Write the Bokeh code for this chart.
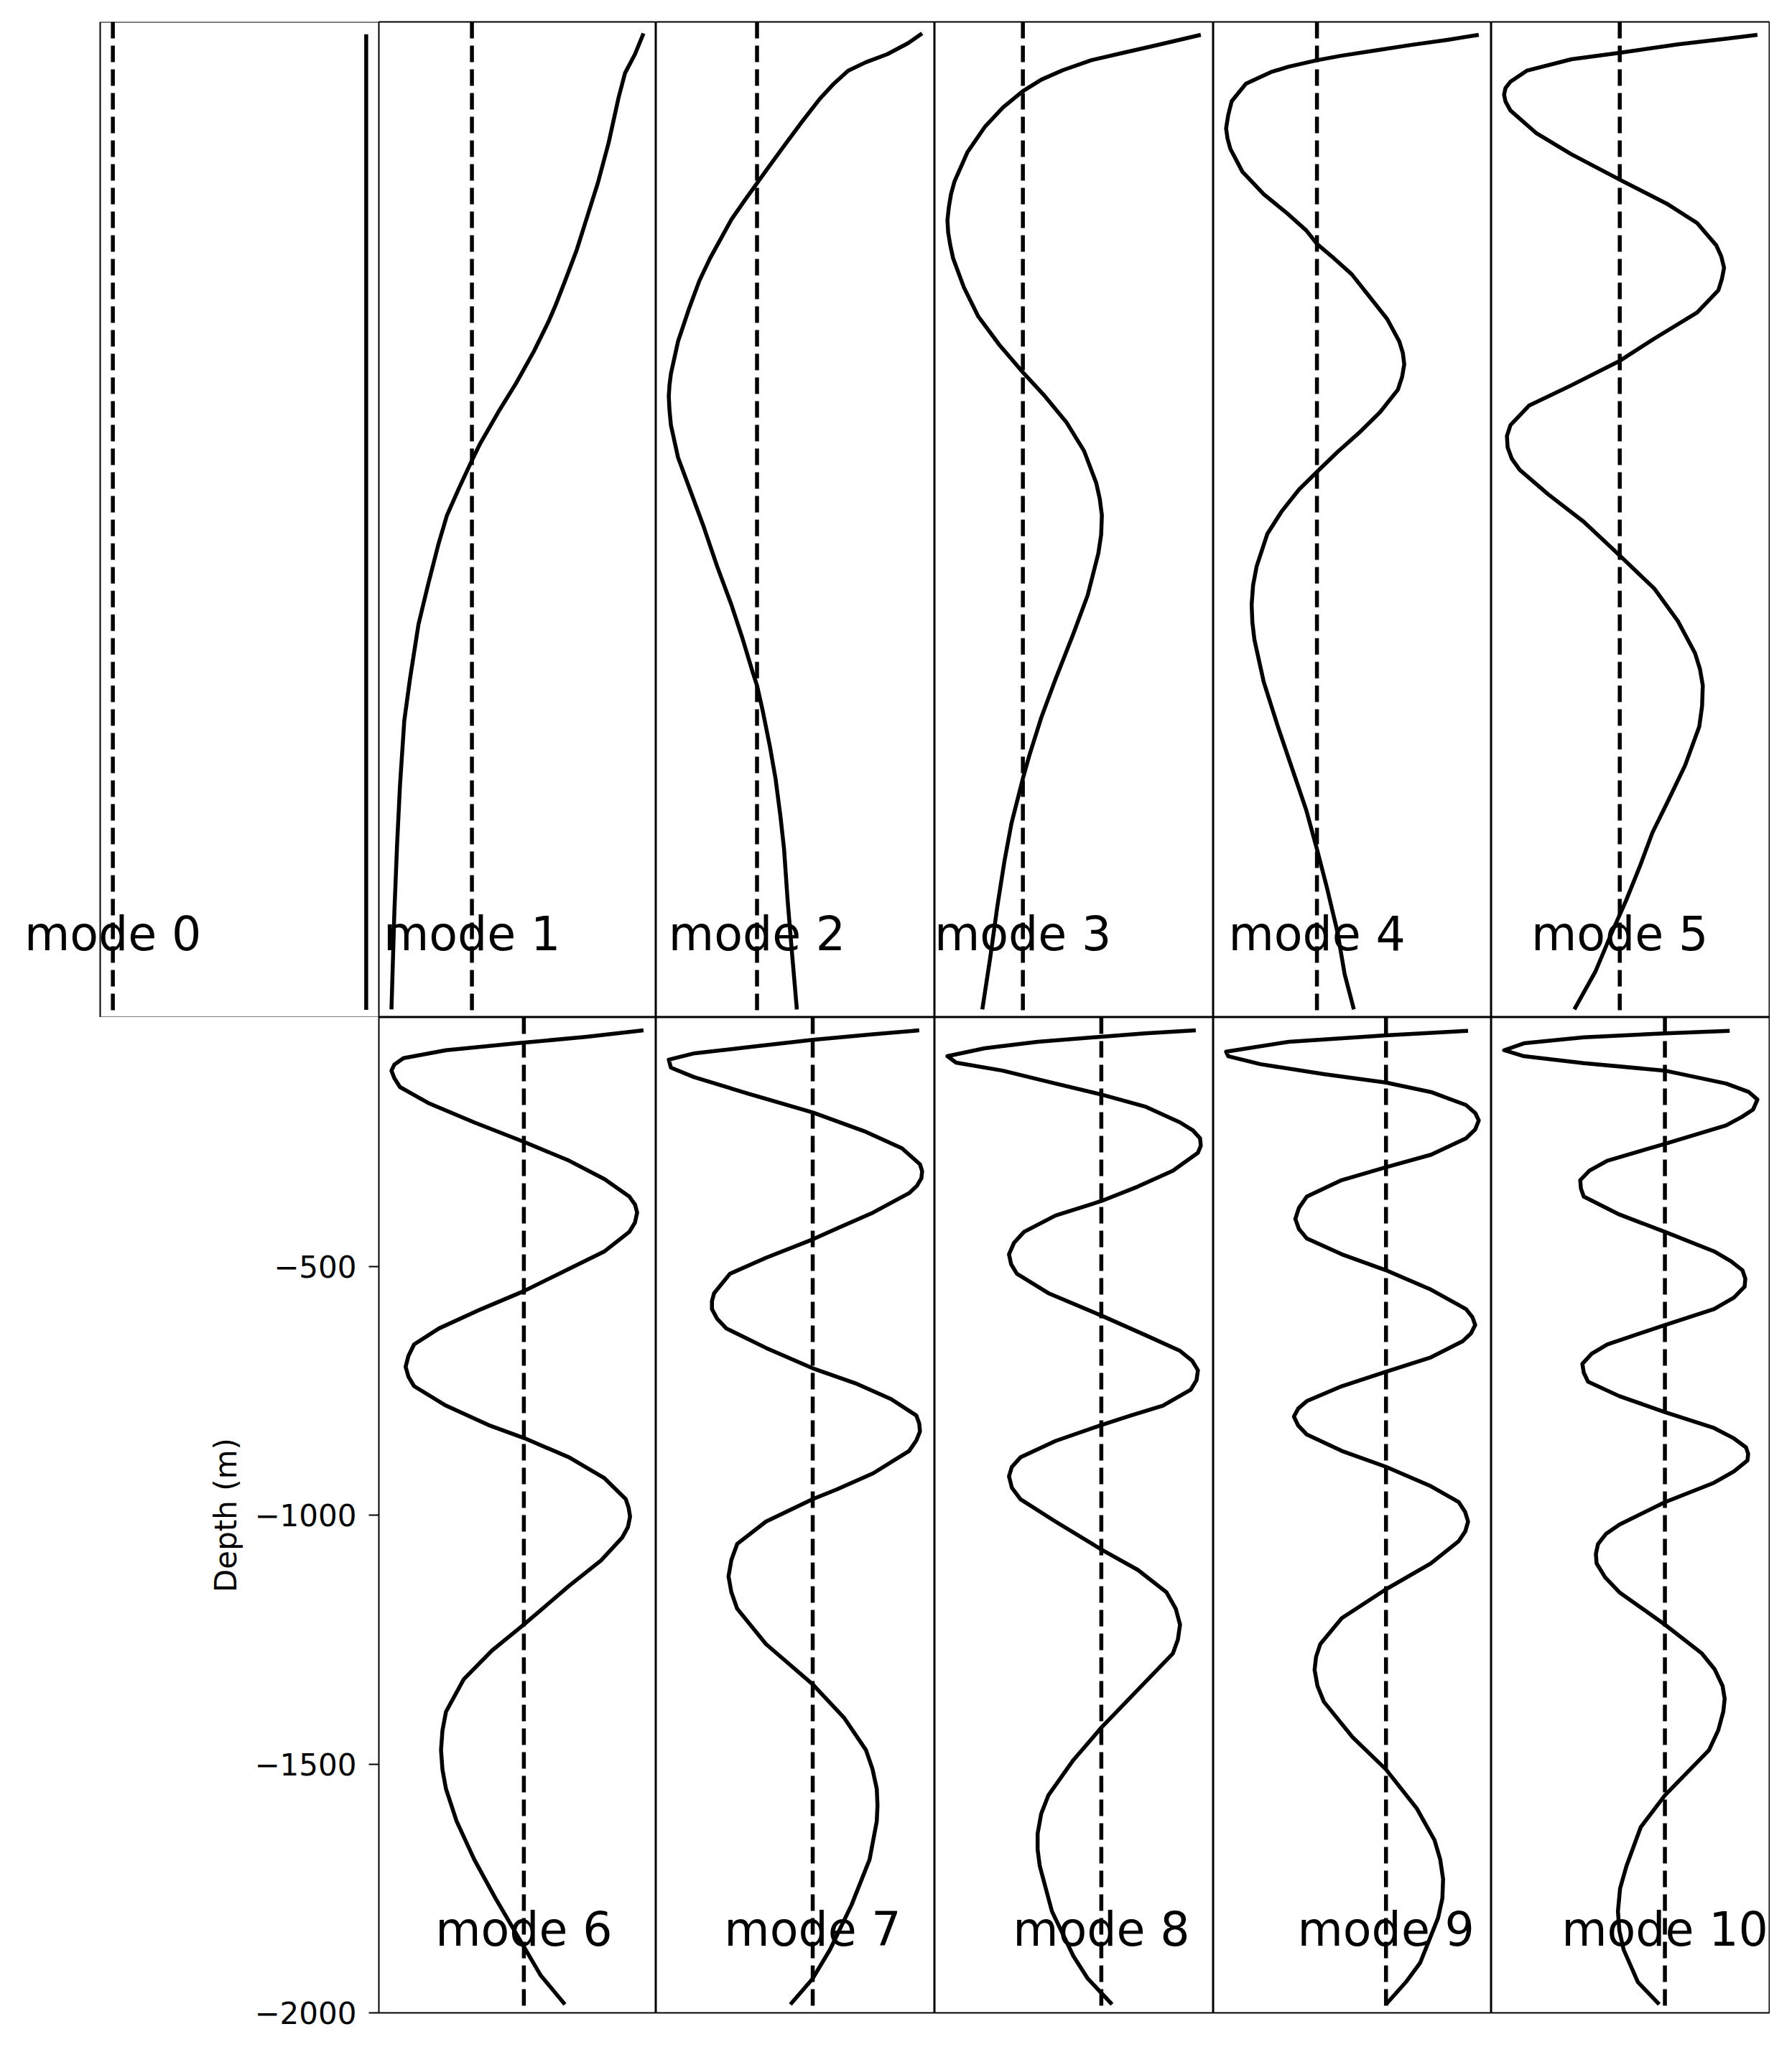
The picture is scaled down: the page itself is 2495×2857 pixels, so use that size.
from bokeh.plotting import figure
from bokeh.layouts import row, column
from bokeh.models import Range1d, Span, Label, FixedTicker, BoxAnnotation
from bokeh.embed import file_html
from bokeh.resources import INLINE

# ---------------- data (depth in m, modal amplitude in arbitrary units) -------------
DEPTH_0 = [-25, -1985]
AMP_0 = [1.0, 1.0]

DEPTH_1 = [-23, -65, -103, -152, -243, -323, -391, -459, -516, -571, -604, -662, -726, -784,
           -846, -881, -933, -991, -1049, -1133, -1210, -1320, -1404, -1533, -1649, -1791, -1984]
AMP_1 = [2.41, 2.29, 2.15, 2.06, 1.92, 1.77, 1.62, 1.47, 1.32, 1.17, 1.07, 0.87, 0.62, 0.37,
         0.12, 0.0, -0.17, -0.35, -0.47, -0.62, -0.75, -0.87, -0.95, -1.01, -1.05, -1.09, -1.13]

DEPTH_2 = [-23, -43, -65, -81, -98, -124, -155, -201, -249, -298, -324, -356, -397, -436, -475,
           -520, -578, -642, -707, -730, -752, -780, -810, -875, -933, -1010, -1094, -1171,
           -1236, -1307, -1333, -1384, -1455, -1520, -1597, -1662, -1765, -1868, -1984]
AMP_2 = [2.32, 2.12, 1.83, 1.53, 1.28, 1.08, 0.88, 0.63, 0.38, 0.13, 0.0, -0.16, -0.36, -0.51,
         -0.66, -0.81, -0.96, -1.11, -1.21, -1.23, -1.24, -1.23, -1.21, -1.11, -0.96, -0.76,
         -0.56, -0.36, -0.21, -0.06, 0.0, 0.08, 0.18, 0.26, 0.33, 0.38, 0.43, 0.49, 0.56]

DEPTH_3 = [-26, -36, -49, -62, -77, -97, -116, -139, -172, -210, -262, -320, -346, -372, -398,
           -423, -449, -475, -533, -591, -649, -704, -752, -804, -862, -926, -958, -991, -1030,
           -1068, -1152, -1229, -1320, -1397, -1474, -1520, -1610, -1687, -1778, -1881, -1984]
AMP_3 = [2.50, 2.20, 1.81, 1.41, 0.96, 0.56, 0.26, 0.0, -0.28, -0.53, -0.78, -0.96, -1.01,
         -1.04, -1.06, -1.05, -1.02, -0.98, -0.83, -0.63, -0.33, 0.0, 0.31, 0.61, 0.86, 1.03,
         1.08, 1.11, 1.10, 1.06, 0.91, 0.71, 0.46, 0.26, 0.09, 0.0, -0.16, -0.26, -0.36,
         -0.46, -0.57]

DEPTH_4 = [-26, -36, -46, -57, -68, -77, -90, -101, -124, -159, -187, -214, -234, -255, -301,
           -346, -387, -419, -446, -475, -507, -552, -597, -642, -665, -688, -713, -739, -784,
           -826, -864, -904, -939, -984, -1029, -1094, -1132, -1171, -1206, -1242, -1326,
           -1416, -1500, -1584, -1662, -1739, -1829, -1913, -1984]
AMP_4 = [2.28, 1.84, 1.34, 0.84, 0.34, 0.0, -0.40, -0.65, -1.00, -1.20, -1.25, -1.28, -1.26,
         -1.22, -1.05, -0.75, -0.40, -0.15, 0.0, 0.24, 0.49, 0.74, 0.99, 1.16, 1.21, 1.23,
         1.20, 1.14, 0.89, 0.59, 0.29, 0.0, -0.25, -0.50, -0.70, -0.85, -0.90, -0.92, -0.91,
         -0.88, -0.75, -0.55, -0.35, -0.15, 0.0, 0.14, 0.29, 0.39, 0.52]

DEPTH_5 = [-26, -34, -45, -62, -75, -98, -120, -133, -146, -160, -178, -223, -266, -317, -365,
           -404, -449, -471, -494, -516, -539, -584, -636, -681, -730, -771, -810, -832, -855,
           -878, -900, -949, -1004, -1072, -1139, -1204, -1268, -1300, -1333, -1375, -1416,
           -1494, -1571, -1629, -1694, -1765, -1829, -1907, -1984]
AMP_5 = [1.94, 1.49, 0.82, 0.0, -0.68, -1.31, -1.54, -1.61, -1.63, -1.61, -1.54, -1.18, -0.68,
         0.0, 0.66, 1.09, 1.36, 1.43, 1.47, 1.44, 1.39, 1.09, 0.49, 0.0, -0.68, -1.28, -1.54,
         -1.59, -1.58, -1.52, -1.41, -1.01, -0.51, 0.0, 0.49, 0.82, 1.06, 1.13, 1.17, 1.16,
         1.12, 0.92, 0.66, 0.46, 0.29, 0.09, -0.11, -0.34, -0.64]

DEPTH_6 = [-26, -39, -52, -66, -82, -95, -107, -122, -140, -172, -211, -250, -288, -325, -360,
           -376, -392, -412, -431, -470, -505, -550, -586, -625, -657, -680, -702, -722, -741,
           -780, -819, -845, -884, -926, -968, -985, -1003, -1024, -1045, -1091, -1142, -1220,
           -1272, -1330, -1395, -1433, -1472, -1511, -1550, -1615, -1692, -1770, -1867, -1925,
           -1983]
AMP_6 = [1.69, 0.89, -0.10, -1.10, -1.70, -1.83, -1.87, -1.83, -1.75, -1.35, -0.70, 0.0, 0.64,
         1.14, 1.49, 1.57, 1.60, 1.57, 1.49, 1.14, 0.64, 0.0, -0.60, -1.20, -1.55, -1.63, -1.67,
         -1.63, -1.55, -1.10, -0.50, 0.0, 0.64, 1.14, 1.44, 1.48, 1.50, 1.47, 1.39, 1.09, 0.64,
         0.0, -0.45, -0.85, -1.10, -1.15, -1.17, -1.15, -1.10, -0.95, -0.70, -0.40, 0.0, 0.24,
         0.58]

DEPTH_7 = [-26, -34, -45, -60, -72, -85, -101, -120, -153, -191, -230, -263, -295, -309, -323,
           -338, -353, -392, -424, -446, -483, -515, -554, -570, -586, -605, -625, -664, -705,
           -735, -767, -800, -816, -832, -850, -871, -916, -948, -968, -1013, -1058, -1090,
           -1123, -1155, -1188, -1259, -1340, -1408, -1472, -1510, -1550, -1583, -1615, -1692,
           -1783, -1873, -1931, -1983]
AMP_7 = [1.48, 0.84, 0.0, -0.90, -1.64, -2.00, -1.97, -1.65, -0.90, 0.0, 0.74, 1.24, 1.49,
         1.52, 1.51, 1.45, 1.34, 0.84, 0.34, 0.0, -0.65, -1.15, -1.37, -1.40, -1.40, -1.33,
         -1.20, -0.65, 0.0, 0.59, 1.09, 1.44, 1.48, 1.49, 1.44, 1.34, 0.84, 0.34, 0.0, -0.65,
         -1.05, -1.13, -1.17, -1.13, -1.05, -0.65, 0.0, 0.44, 0.74, 0.83, 0.89, 0.90, 0.89,
         0.79, 0.54, 0.24, 0.0, -0.31]

DEPTH_8 = [-26, -32, -39, -49, -62, -78, -91, -107, -133, -155, -179, -211, -227, -243, -258,
           -272, -308, -340, -369, -398, -431, -453, -476, -496, -515, -554, -599, -638, -670,
           -690, -709, -729, -748, -780, -800, -819, -851, -884, -903, -922, -945, -968, -1013,
           -1069, -1110, -1155, -1188, -1220, -1250, -1278, -1336, -1427, -1492, -1563, -1600,
           -1640, -1672, -1705, -1796, -1886, -1931, -1983]
AMP_8 = [1.32, 0.61, 0.0, -0.89, -1.63, -2.15, -2.03, -1.38, -0.64, 0.0, 0.61, 1.10, 1.28,
         1.38, 1.39, 1.35, 1.00, 0.51, 0.0, -0.64, -1.08, -1.22, -1.29, -1.26, -1.18, -0.74,
         0.0, 0.61, 1.10, 1.27, 1.35, 1.33, 1.25, 0.86, 0.41, 0.0, -0.64, -1.13, -1.25, -1.29,
         -1.25, -1.13, -0.64, 0.0, 0.51, 0.91, 1.04, 1.10, 1.07, 1.00, 0.61, 0.0, -0.39,
         -0.74, -0.84, -0.89, -0.89, -0.86, -0.69, -0.39, -0.19, 0.15]

DEPTH_9 = [-27, -36, -49, -69, -78, -94, -114, -131, -150, -176, -192, -207, -225, -243, -276,
           -301, -327, -360, -383, -405, -425, -444, -476, -508, -547, -586, -602, -618, -635,
           -651, -683, -712, -741, -771, -786, -802, -820, -838, -871, -903, -942, -974, -994,
           -1013, -1033, -1052, -1097, -1149, -1207, -1259, -1285, -1311, -1343, -1375, -1446,
           -1511, -1589, -1653, -1692, -1731, -1770, -1809, -1899, -1938, -1983]
AMP_9 = [1.15, 0.0, -1.36, -2.24, -2.21, -1.76, -0.87, 0.0, 0.63, 1.12, 1.25, 1.30, 1.25, 1.12,
         0.63, 0.0, -0.62, -1.11, -1.22, -1.27, -1.22, -1.11, -0.62, 0.0, 0.63, 1.12, 1.21,
         1.25, 1.19, 1.07, 0.63, 0.0, -0.62, -1.11, -1.23, -1.29, -1.23, -1.11, -0.62, 0.0,
         0.63, 1.02, 1.11, 1.15, 1.11, 1.02, 0.63, 0.0, -0.62, -0.92, -0.98, -1.00, -0.96,
         -0.87, -0.47, 0.0, 0.43, 0.68, 0.76, 0.80, 0.79, 0.73, 0.48, 0.28, 0.0]

DEPTH_10 = [-27, -32, -40, -52, -66, -78, -92, -107, -133, -150, -165, -185, -200, -217, -254,
            -288, -308, -327, -344, -360, -396, -431, -470, -490, -508, -525, -541, -563, -586,
            -618, -657, -676, -696, -714, -732, -761, -793, -825, -845, -864, -877, -890, -912,
            -935, -974, -1019, -1038, -1058, -1078, -1097, -1125, -1155, -1220, -1278, -1310,
            -1343, -1369, -1395, -1432, -1472, -1563, -1627, -1705, -1750, -1796, -1835, -1873,
            -1938, -1983]
AMP_10 = [0.91, 0.0, -1.14, -1.98, -2.26, -1.98, -1.14, 0.0, 0.86, 1.18, 1.30, 1.24, 1.08,
          0.86, 0.0, -0.81, -1.06, -1.19, -1.18, -1.14, -0.64, 0.0, 0.69, 0.93, 1.09, 1.13,
          1.12, 0.97, 0.69, 0.0, -0.81, -1.03, -1.16, -1.14, -1.08, -0.64, 0.0, 0.69, 0.96,
          1.14, 1.17, 1.16, 0.97, 0.69, 0.0, -0.64, -0.83, -0.94, -0.97, -0.96, -0.84, -0.64,
          0.0, 0.52, 0.70, 0.81, 0.84, 0.82, 0.75, 0.62, 0.0, -0.34, -0.54, -0.63, -0.66,
          -0.64, -0.58, -0.38, -0.08]

MODE_LABELS = ["mode %d" % m for m in range(11)]
Y_TICKS = [-500, -1000, -1500, -2000]
Y_TICK_LABELS = ["\u2212500", "\u22121000", "\u22121500", "\u22122000"]
Y_LABEL = "Depth (m)"

DEPTHS = [DEPTH_0, DEPTH_1, DEPTH_2, DEPTH_3, DEPTH_4, DEPTH_5,
          DEPTH_6, DEPTH_7, DEPTH_8, DEPTH_9, DEPTH_10]
AMPS = [AMP_0, AMP_1, AMP_2, AMP_3, AMP_4, AMP_5,
        AMP_6, AMP_7, AMP_8, AMP_9, AMP_10]
for _d, _a in zip(DEPTHS, AMPS):
    assert len(_d) == len(_a), (len(_d), len(_a))

# ---------------- layout / style ----------------
FRAME_W = [388, 386, 388, 388, 387, 388]
FRAME_H = 1386
TOP_PAD = 30
LEFT_PAD = 139
BOTTOM_PAD = 45
LABEL_DEPTH = -1832
LW = 5.5
FONT = "DejaVu Sans"


def make_panel(mode, col, top_row):
    d = DEPTHS[mode]
    a = AMPS[mode]
    lo = min(min(a), 0.0)
    hi = max(max(a), 0.0)
    span = hi - lo
    x0 = lo - 0.05 * span
    x1 = hi + 0.05 * span
    # the first panel's frame is widened to the left so its label is not clipped
    widen = top_row and col == 0
    fw = FRAME_W[col]
    if widen:
        x0_plot = x0 - (x1 - x0) * LEFT_PAD / fw
        fw_plot = fw + LEFT_PAD
    else:
        x0_plot = x0
        fw_plot = fw
    with_axis = (not top_row) and col == 1
    p = figure(frame_width=fw_plot, frame_height=FRAME_H,
               x_range=Range1d(x0_plot, x1),
               y_range=Range1d(-2000, 0),
               output_backend="svg", toolbar_location=None,
               x_axis_location=None,
               y_axis_location="left" if with_axis else None,
               min_border=0)
    p.min_border_left = (FRAME_W[0] + LEFT_PAD) if with_axis else 0
    p.min_border_top = TOP_PAD if top_row else 0
    p.min_border_right = 0
    p.min_border_bottom = 0 if top_row else BOTTOM_PAD
    p.background_fill_color = "white"
    p.border_fill_color = "white"
    for g in p.xgrid + p.ygrid:
        g.visible = False
    if widen:
        p.outline_line_color = None
        p.add_layout(BoxAnnotation(left=x0, fill_color=None, fill_alpha=0,
                                   line_color="black", line_width=2, line_alpha=1.0))
    else:
        p.outline_line_color = "black"
        p.outline_line_width = 2
        p.outline_line_alpha = 1.0
    if with_axis:
        ax = p.yaxis[0]
        ax.ticker = FixedTicker(ticks=Y_TICKS)
        ax.major_label_overrides = {t: s for t, s in zip(Y_TICKS, Y_TICK_LABELS)}
        ax.axis_line_color = None
        ax.major_tick_out = 14
        ax.major_tick_in = 0
        ax.major_tick_line_width = 2
        ax.major_tick_line_color = "black"
        ax.minor_tick_line_color = None
        ax.major_label_text_font = FONT
        ax.major_label_text_font_size = "42px"
        ax.major_label_text_color = "black"
        ax.major_label_standoff = 17
        ax.axis_label = Y_LABEL
        ax.axis_label_text_font = FONT
        ax.axis_label_text_font_size = "42px"
        ax.axis_label_text_font_style = "normal"
        ax.axis_label_text_color = "black"
        ax.axis_label_standoff = 12
    p.add_layout(Span(location=0, dimension="height", line_color="black",
                      line_width=LW, line_dash="23 10"))
    p.line(x=a, y=d, line_color="black", line_width=LW, line_join="round")
    p.add_layout(Label(x=0, y=LABEL_DEPTH, text=MODE_LABELS[mode],
                       text_align="center", text_baseline="alphabetic",
                       text_font=FONT, text_font_size="65px", text_color="black"))
    return p


top = [make_panel(m, m, True) for m in range(6)]
bottom = [make_panel(m, m - 5, False) for m in range(6, 11)]

layout = column(row(*top, spacing=0), row(*bottom, spacing=0), spacing=0)

with open("out.html", "w") as f:
    f.write(file_html(layout, INLINE))
